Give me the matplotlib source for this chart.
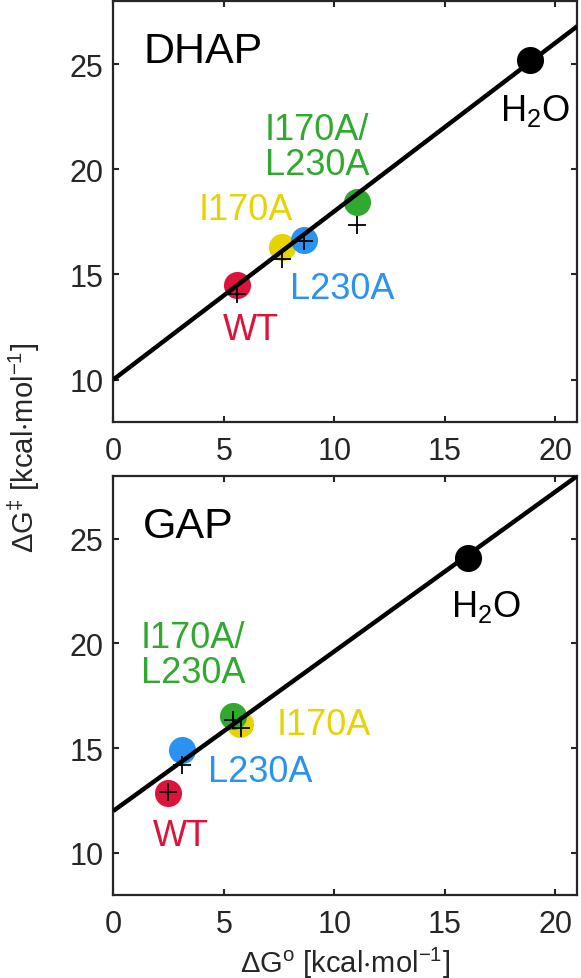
import numpy as np
import matplotlib
matplotlib.use('Agg')
import matplotlib.pyplot as plt

plt.rcParams['font.family'] = ['Liberation Sans', 'DejaVu Sans']
plt.rcParams['mathtext.fontset'] = 'custom'
plt.rcParams['mathtext.rm'] = 'Liberation Sans'
plt.rcParams['mathtext.it'] = 'Liberation Sans:italic'
plt.rcParams['mathtext.default'] = 'regular'

# data: WT, I170A, L230A, I170A/L230A, H2O
names = ['WT', 'I170A', 'L230A', 'I170A/\nL230A', 'H$_2$O']
colors = ['#DC143C', '#E6D400', '#2A93F2', '#2FAA2F', 'black']

dhap_x = [5.6, 7.62, 8.63, 11.04, 18.85]
dhap_y = [14.48, 16.31, 16.63, 18.46, 25.2]
dhap_calc_x = [5.6, 7.62, 8.63, 11.04]
dhap_calc_y = [14.05, 15.75, 16.6, 17.35]

gap_x = [2.49, 5.73, 3.09, 5.40, 16.06]
gap_y = [12.88, 16.14, 14.9, 16.52, 24.1]
gap_calc_x = [2.49, 5.76, 3.09, 5.43]
gap_calc_y = [12.9, 15.98, 14.19, 16.33]

fit_intercept = [10.0, 12.0]
fit_slope = [0.80, 0.762]

panels = ['DHAP', 'GAP']

# label placement (x, y, ha) per panel
label_pos = [
    [(6.22, 12.38, 'center'), (8.14, 18.11, 'right'), (8.0, 14.34, 'left'),
     (6.85, 21.05, 'left'), (19.1, 22.8, 'center')],
    [(3.05, 10.85, 'center'), (7.37, 16.15, 'left'), (4.3, 13.87, 'left'),
     (1.25, 19.45, 'left'), (16.85, 21.78, 'center')],
]

fig = plt.figure(figsize=(5.81, 9.79), dpi=100)
ax_top = fig.add_axes([0.195, 0.5682, 0.7986, 0.4298])
ax_bot = fig.add_axes([0.195, 0.0851, 0.7986, 0.4277])

data = [(dhap_x, dhap_y, dhap_calc_x, dhap_calc_y),
        (gap_x, gap_y, gap_calc_x, gap_calc_y)]
order = [[0, 1, 2, 3, 4], [0, 2, 1, 3, 4]]

for i, ax in enumerate([ax_top, ax_bot]):
    x, y, cx, cy = data[i]
    for k in order[i]:
        ax.plot(x[k], y[k], 'o', ms=19.5, color=colors[k], mec='none', zorder=2)
    xx = np.array([0, 21])
    ax.plot(xx, fit_intercept[i] + fit_slope[i] * xx, 'k-', lw=3.2, zorder=3,
            solid_capstyle='butt')
    ax.plot(cx, cy, 'k+', ms=13, mew=1.3, zorder=4)
    for k, (lx, ly, ha) in enumerate(label_pos[i]):
        ax.text(lx, ly, names[k], color=colors[k], fontsize=26, ha=ha, va='center',
                linespacing=0.98)
    ax.text(1.35, 25.62, panels[i], fontsize=31, ha='left', va='center')

    ax.set_xlim(0, 21)
    ax.set_ylim(8, 28)
    ax.set_xticks([0, 5, 10, 15, 20])
    ax.set_yticks([10, 15, 20, 25])
    ax.tick_params(direction='in', length=4.5, width=1.5, labelsize=22,
                   top=True, right=True, colors='#262626')
    ax.tick_params(axis='x', pad=10)
    ax.tick_params(axis='y', pad=7)
    for s in ax.spines.values():
        s.set_linewidth(1.6)
        s.set_color('#262626')

fig.text(0.041, 1 - 448 / 979, r'$\Delta$G$^{‡}$ [kcal$\cdot$mol$^{-1}$]',
         rotation=90, fontsize=21, ha='center', va='center', color='#262626')
fig.text(0.594, 1 - 963 / 979, r'$\Delta$G$^{o}$ [kcal$\cdot$mol$^{-1}$]',
         fontsize=21, ha='center', va='center', color='#262626')

fig.savefig('out.png', dpi=100)
